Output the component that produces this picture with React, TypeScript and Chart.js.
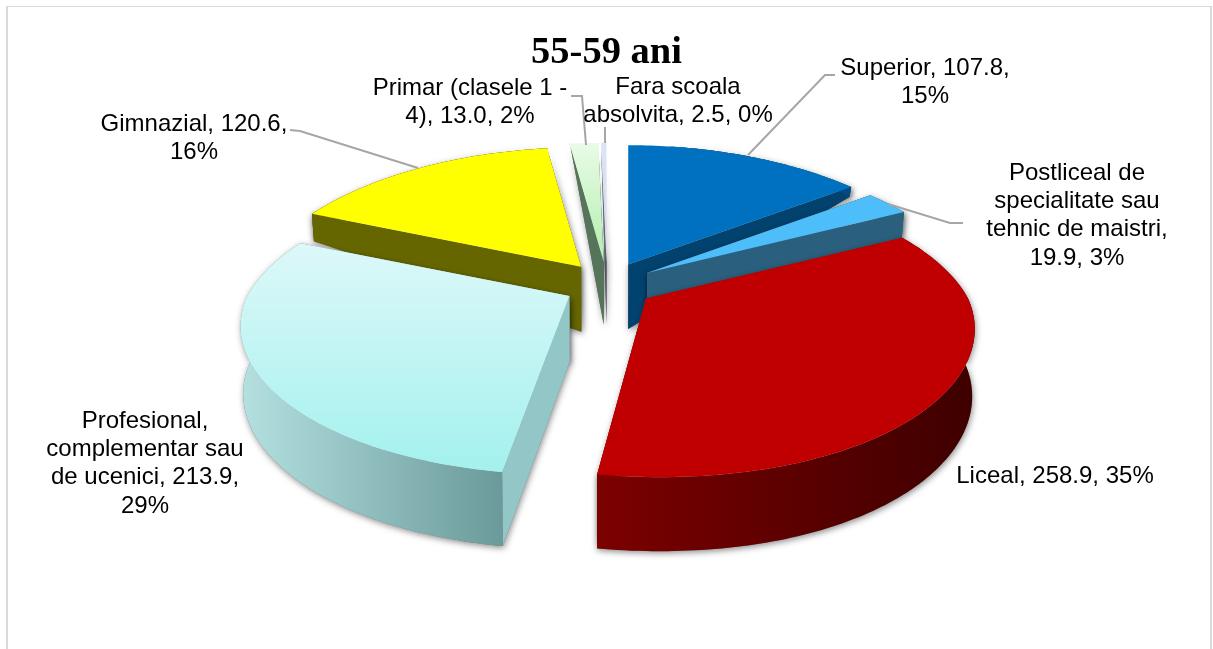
import React, { useEffect, useRef } from "react";
import { Chart, registerables } from "chart.js";

Chart.register(...registerables);

const categories = [
  "Superior",
  "Postliceal de specialitate sau tehnic de maistri",
  "Liceal",
  "Profesional, complementar sau de ucenici",
  "Gimnazial",
  "Primar (clasele 1 - 4)",
  "Fara scoala absolvita",
];
const values = [107.8, 19.9, 258.9, 213.9, 120.6, 13.0, 2.5];
const chartTitle = "55-59 ani";

const topColors = ["#0070C0", "#4DBEFA", "#C00000", "#BFF3F3", "#FFFF00", "#CFF7CB", "#DDE4F4"];
const topLight = ["#0070C0", "#4DBEFA", "#C00000", "#DDF8F9", "#FFFF00", "#E8FBE6", "#DDE4F4"];
const topDeep = ["#0070C0", "#4DBEFA", "#C00000", "#A3F1EE", "#FFFF00", "#B2EFAE", "#DDE4F4"];
const faceColors = ["#02426F", "#2A5F7E", "#700000", "#93C6C6", "#666600", "#55745A", "#6A6F80"];
const wallFrom = ["#02426F", "#2A5F7E", "#7C0000", "#B4E0E0", "#666600", "#55745A", "#6A6F80"];
const wallTo = ["#024A80", "#2A5F7E", "#3E0000", "#6B9A9A", "#666600", "#55745A", "#6A6F80"];

// projection of the flat pie to the picture
const view = { cx: 607, cy: 285, exRight: 48, exLeft: 43, ey: 23, A: 322, B: 143, p: 0.2, backNarrow: 0.04 };
const frontSlant = [0, 0, 14, -5, 0, 0, 0];
const depthStops = [[146, 0], [187, 10], [212, 26], [240, 45], [265, 65], [296, 66], [472, 74], [700, 74]];

const labelFont = '24px "Liberation Sans", Arial, sans-serif';
const labelLayout = [
  { x: 925, y: 68, w: 195 },
  { x: 1077, y: 173, w: 195 },
  { x: 1055, y: 476, w: 300 },
  { x: 145, y: 421, w: 205 },
  { x: 194, y: 124, w: 195 },
  { x: 470, y: 88, w: 200 },
  { x: 678, y: 87, w: 195 },
];
const leaderLines = [
  [[835, 75], [825, 75], [748, 155]],
  [[963, 223], [950, 223], [888, 204]],
  null,
  null,
  [[290, 130], [300, 131], [418, 168]],
  [[571, 96], [582, 96], [586, 145]],
  [[605, 127], [605, 143]],
];

function depthAt(y: number) {
  for (let i = 1; i < depthStops.length; i++) {
    const [y0, d0] = depthStops[i - 1];
    const [y1, d1] = depthStops[i];
    if (y <= y1) return y < y0 ? d0 : d0 + ((d1 - d0) * (y - y0)) / (y1 - y0);
  }
  return depthStops[depthStops.length - 1][1];
}

function wrap(ctx: CanvasRenderingContext2D, text: string, maxW: number) {
  const lines: string[] = [];
  let cur = "";
  for (const word of text.split(" ")) {
    const next = cur ? cur + " " + word : word;
    if (cur && ctx.measureText(next).width > maxW) {
      lines.push(cur);
      cur = word;
    } else cur = next;
  }
  if (cur) lines.push(cur);
  return lines;
}

const pie3d = {
  id: "pie3d",
  beforeDatasetsDraw(chart: any) {
    const ctx: CanvasRenderingContext2D = chart.ctx;
    const arcs = chart.getDatasetMeta(0).data as any[];
    const order = arcs
      .map((a, i) => ({ i, mid: (a.startAngle + a.endAngle) / 2 }))
      .sort((p, q) => Math.sin(p.mid) - Math.sin(q.mid));
    for (const { i, mid } of order) {
      const a = arcs[i];
      const cm = Math.cos(mid);
      const ax = view.cx + (cm < 0 ? view.exLeft : view.exRight) * cm;
      const ay = view.cy + view.ey * Math.sin(mid);
      const top = (ang: number) => {
        const X = Math.cos(ang);
        const Y = Math.sin(ang);
        const w = 1 - view.p * Y;
        const narrow = Y < 0 ? 1 + view.backNarrow * Y : 1;
        const slant = Y > 0 ? frontSlant[i] * Y * Y * Y : 0;
        return [ax + (view.A * X * narrow) / w + slant, ay + (view.B * Y) / w];
      };
      const down = (pt: number[]) => [view.cx + (pt[0] - view.cx) * 0.993, pt[1] + depthAt(pt[1])];
      const n = Math.max(4, Math.ceil(((a.endAngle - a.startAngle) * 180) / Math.PI));
      const rim: number[][] = [];
      for (let k = 0; k <= n; k++) rim.push(top(a.startAngle + ((a.endAngle - a.startAngle) * k) / n));
      const apex = [ax, ay];
      const poly = (pts: number[][], fill: any) => {
        ctx.beginPath();
        pts.forEach((p, k) => (k ? ctx.lineTo(p[0], p[1]) : ctx.moveTo(p[0], p[1])));
        ctx.closePath();
        ctx.fillStyle = fill;
        ctx.fill();
      };
      const first = rim[0];
      const last = rim[rim.length - 1];
      const faceA = [apex, first, down(first), down(apex)];
      const faceB = [apex, last, down(last), down(apex)];
      const strip = [...rim, ...rim.map(down).reverse()];
      const xs = rim.map((p) => p[0]);
      const g = ctx.createLinearGradient(Math.min(...xs), 0, Math.max(...xs), 0);
      g.addColorStop(0, wallFrom[i]);
      g.addColorStop(1, wallTo[i]);

      ctx.save();
      ctx.shadowColor = "rgba(0,0,0,0.45)";
      ctx.shadowBlur = 6;
      ctx.shadowOffsetX = 1;
      ctx.shadowOffsetY = 2;
      poly(faceA, "#777");
      poly(faceB, "#777");
      poly(strip, "#777");
      ctx.restore();

      poly(faceA, faceColors[i]);
      poly(faceB, faceColors[i]);
      poly(strip, g);

      const ys = [...rim, apex].map((p) => p[1]);
      const t = ctx.createLinearGradient(0, Math.min(...ys), 0, Math.max(...ys));
      t.addColorStop(0, topLight[i]);
      t.addColorStop(1, topDeep[i]);
      poly([apex, ...rim], t);
    }
    return false;
  },
  afterDraw(chart: any) {
    const ctx: CanvasRenderingContext2D = chart.ctx;
    const total = values.reduce((s, v) => s + v, 0);
    ctx.save();
    ctx.strokeStyle = "#A6A6A6";
    ctx.lineWidth = 2;
    for (const line of leaderLines) {
      if (!line) continue;
      ctx.beginPath();
      line.forEach((p, k) => (k ? ctx.lineTo(p[0], p[1]) : ctx.moveTo(p[0], p[1])));
      ctx.stroke();
    }
    ctx.font = labelFont;
    ctx.fillStyle = "#000";
    ctx.textAlign = "center";
    ctx.textBaseline = "middle";
    categories.forEach((name, i) => {
      const text = `${name}, ${values[i].toFixed(1)}, ${Math.round((values[i] / total) * 100)}%`;
      const { x, y, w } = labelLayout[i];
      wrap(ctx, text, w).forEach((line, k) => ctx.fillText(line, x, y + k * 28.4));
    });
    ctx.restore();
  },
};

export default function App() {
  const ref = useRef<HTMLCanvasElement>(null);
  useEffect(() => {
    const chart = new Chart(ref.current!, {
      type: "pie",
      data: {
        labels: categories,
        datasets: [{ data: values, backgroundColor: topColors, borderWidth: 0 }],
      },
      options: {
        responsive: false,
        animation: false,
        plugins: {
          legend: { display: false },
          tooltip: { enabled: false },
          title: {
            display: true,
            text: chartTitle,
            color: "#000",
            font: { family: '"Liberation Serif", "Times New Roman", serif', size: 38.5, weight: "bold" },
            padding: { top: 30, bottom: 10 },
          },
        },
      },
      plugins: [pie3d],
    } as any);
    return () => chart.destroy();
  }, []);
  return (
    <div style={{ position: "fixed", left: 0, top: 0, width: 1213, height: 649, overflow: "hidden", background: "#fff" }}>
      <canvas ref={ref} width={1213} height={649} style={{ position: "absolute", left: 0, top: 0, display: "block" }} />
      <div
        style={{
          position: "absolute",
          left: 6,
          top: 6,
          width: 1202,
          height: 700,
          borderLeft: "2px solid #D9D9D9",
          borderRight: "2px solid #D9D9D9",
          borderTop: "1.5px solid #D9D9D9",
          pointerEvents: "none",
        }}
      />
    </div>
  );
}
